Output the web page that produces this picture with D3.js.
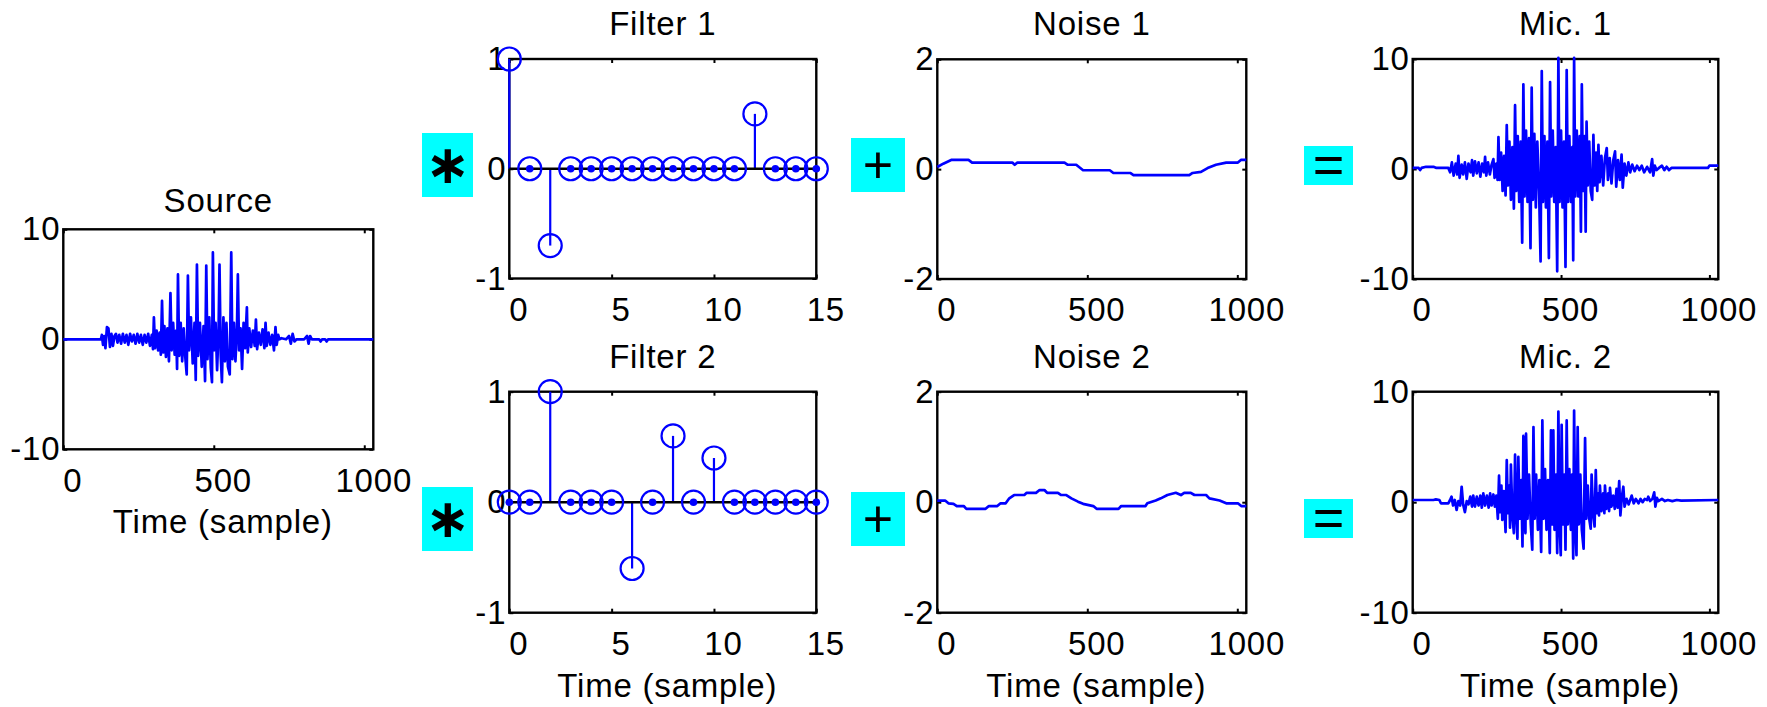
<!DOCTYPE html>
<html>
<head>
<meta charset="utf-8">
<script src="https://cdn.jsdelivr.net/npm/d3@7"></script>
<style>
  body { margin: 0; background: #fff; }
  svg text { font-family: "Liberation Sans", Arial, sans-serif; }
</style>
</head>
<body>
<div id="chart"></div>
<script>
// ---- data ----
let xMax = 1030;
let longTicks = [0, 500, 1000];
let filterTicks = [0, 5, 10, 15];
let bigTicksY = [-10, 0, 10];
let unitTicksY = [-1, 0, 1];
let noiseTicksY = [-2, 0, 2];

let filter1 = [1, 0, -0.7, 0, 0, 0, 0, 0, 0, 0, 0, 0, 0.5, 0, 0, 0];
let filter2 = [0, 0, 1, 0, 0, 0, -0.6, 0, 0.6, 0, 0.4, 0, 0, 0, 0, 0];

// [sample, value]
let source = [[0,0],[125,0],[128,0.4],[132,-0.5],[136,0.3],[140,-0.8],[145,1.1],[150,1.0],[155,-0.7],[160,0.5],[165,-0.6],[170,0.3],[175,0.5],[180,-0.3],[186,0.4],[192,-0.4],[198,0.5],[204,-0.3],[210,0.4],[216,-0.5],[222,0.5],[228,-0.2],[234,0.4],[240,-0.4],[246,0.5],[252,-0.3],[258,0.4],[264,-0.5],[270,0.4],[276,-0.3],[282,0.5],[288,-0.6],[294,0.4],
  [298,-0.9],[301,2.0],[305,-0.8],[310,0.8],[315,-1.0],[320,0.6],[324,-1.4],[328,3.5],[332,-1.2],[336,1.2],[341,-1.6],[346,1.0],[351,-2.0],[356,4.2],[360,-1.0],[365,1.5],[370,-1.4],[375,0.8],[378,-2.7],[381,5.9],[385,-1.5],[390,1.5],[395,-2.0],[400,1.0],[405,-1.5],[410,-3.2],[414,5.8],[418,-1.0],[424,2.0],[430,-2.2],[436,1.5],[440,-3.7],[444,6.8],[448,-1.5],[454,1.5],[460,-2.5],[466,1.2],[471,-3.8],[475,6.7],[479,-1.8],[485,2.0],[490,-2.6],[494,-3.9],[497,7.9],[501,-1.0],[506,1.5],[511,-2.8],[516,1.0],[519,6.8],[523,-1.5],[527,-3.9],[532,2.0],[537,-2.0],[542,1.5],[547,-2.5],[553,-3.2],[558,7.9],[562,-1.8],[567,1.5],[572,-2.0],[577,1.0],[580,5.9],[584,-1.0],[589,1.0],[594,-2.7],[599,1.5],[604,-0.8],[610,2.9],[613,-1.2],[618,1.0],[624,-0.7],[630,0.8],[636,-0.6],[640,1.8],[644,-0.9],[650,0.6],[656,-0.5],[662,0.9],[668,-0.8],[672,1.5],[676,-0.6],[682,0.6],[688,-0.5],[694,0.4],[700,-1.0],[705,1.1],[709,-0.5],[714,0.4],[718,0],[725,0.1],[740,0],[750,0.3],[756,-0.4],[762,0.5],[768,-0.2],[775,0],[800,0],[810,0.3],[815,-0.4],[820,0.3],[826,0],[850,0],[855,-0.2],[860,0],[870,0],[875,-0.2],[880,0],[1030,0]];

let noise1 = [[0,0.04],[20,0.1],[48,0.17],[104,0.17],[116,0.12],[250,0.12],[258,0.08],[267,0.12],[424,0.12],[435,0.08],[463,0.08],[486,-0.02],[575,-0.02],[587,-0.07],[643,-0.07],[654,-0.11],[840,-0.11],[851,-0.07],[879,-0.05],[901,0.02],[929,0.08],[963,0.12],[1002,0.12],[1013,0.17],[1030,0.17]];

let noise2 = [[0,0.03],[26,0.03],[37,-0.02],[54,-0.03],[65,-0.07],[88,-0.07],[97,-0.12],[161,-0.12],[172,-0.07],[200,-0.07],[211,-0.02],[228,-0.02],[240,0.07],[256,0.13],[290,0.13],[298,0.17],[329,0.17],[341,0.22],[357,0.22],[366,0.17],[402,0.17],[413,0.13],[430,0.13],[447,0.07],[469,0.01],[486,-0.03],[520,-0.07],[531,-0.12],[604,-0.12],[613,-0.07],[694,-0.07],[700,-0.02],[728,0.03],[745,0.07],[767,0.13],[795,0.17],[812,0.13],[823,0.17],[845,0.17],[857,0.13],[896,0.13],[907,0.07],[941,0.03],[963,-0.02],[1002,-0.02],[1013,-0.07],[1030,-0.07]];

let mic1 = [[0,0.1],[20,0.1],[25,-0.1],[30,0.1],[45,0.2],[70,0.2],[80,0.1],[120,0.1],
  [126,-0.3],[132,0.6],[138,-0.6],[145,0.5],[150,-0.5],[154,1.2],[158,-0.8],[165,0.4],[170,-0.5],[176,0.6],[182,-0.9],[188,0.5],[195,-0.3],[200,0.8],[204,-0.6],[210,0.7],[216,-0.4],[222,0.6],[228,-0.7],[234,0.5],[240,-0.3],[244,1.1],[248,-0.6],[254,0.6],[260,-0.5],[266,0.4],[272,0.9],[276,-0.8],[282,0.5],[286,-1.0],[289,2.9],[293,-1.0],[298,1.5],[303,-2.0],[308,1.2],[313,-2.4],[317,4.0],[321,-1.5],[326,2.5],[331,-2.8],[336,2.0],[341,-3.6],[345,5.8],[349,-2.0],[354,3.0],[359,-3.0],[364,2.5],[369,-6.7],[373,7.7],[377,-2.5],[382,3.5],[387,-3.0],[392,2.8],[397,-7.2],[401,7.4],[405,-2.8],[410,3.2],[415,-3.5],[420,2.5],[426,-2.0],[431,-8.4],[435,8.9],[439,-3.0],[444,3.0],[449,-3.5],[454,2.5],[459,-8.1],[463,7.9],[467,-2.5],[472,3.5],[477,-3.0],[482,2.0],[487,-9.3],[491,10.1],[495,-3.0],[500,3.5],[505,-3.5],[510,2.5],[515,-8.9],[519,9.0],[523,-3.0],[528,3.0],[533,-3.0],[538,2.0],[541,-8.3],[544,10.1],[548,-2.5],[553,3.5],[558,-2.5],[563,3.0],[567,-5.7],[570,7.7],[574,-2.0],[579,3.0],[583,-5.7],[586,4.3],[590,-1.5],[595,2.5],[600,-2.0],[605,-2.8],[609,3.1],[613,-1.5],[618,1.5],[622,-2.0],[626,2.2],[630,-1.2],[636,1.2],[642,-1.5],[648,1.0],[654,1.9],[658,-1.0],[664,1.0],[670,-1.3],[676,0.8],[682,1.6],[686,-1.6],[692,0.8],[698,-1.0],[704,1.3],[708,-1.7],[714,0.5],[720,-0.6],[727,0.6],[733,-0.3],[740,0.4],[748,-0.2],[756,0.3],[764,-0.1],[772,0.3],[780,-0.3],[790,0.2],[800,-0.3],[807,0.9],[811,-0.6],[816,0.3],[822,-0.1],[830,0.1],[840,0.3],[848,-0.1],[856,0.2],[864,-0.1],[872,0.1],[880,0.1],[995,0.1],[1000,0.3],[1030,0.3]];

let mic2 = [[0,0.2],[70,0.2],[78,0.25],[90,0.2],[95,-0.1],[120,-0.1],[126,0.2],[131,0.5],[136,-0.3],[142,0.2],[148,-0.7],[154,0.1],[160,-0.3],[165,1.4],[170,-0.2],[176,-0.9],[182,0.1],[188,-0.2],[194,0.5],[200,-0.4],[204,0.6],[210,-0.4],[216,0.5],[222,-0.3],[228,0.6],[233,-0.5],[238,0.8],[244,-0.3],[250,0.6],[256,-0.5],[261,0.8],[266,-0.3],[272,0.7],[277,-0.4],[282,0.6],[287,-1.5],[291,2.4],[295,-0.9],[299,1.5],[302,-1.6],[307,1.0],[313,-2.7],[317,3.8],[321,-1.0],[325,1.5],[328,-2.3],[331,3.4],[336,-1.2],[341,-2.8],[345,4.3],[349,-1.0],[353,-3.3],[356,4.1],[361,-1.5],[366,2.0],[370,-4.0],[373,6.0],[377,-1.5],[380,-2.8],[382,6.2],[387,-1.5],[392,2.5],[398,-2.0],[403,-4.3],[407,6.8],[411,-1.5],[416,2.5],[422,-2.5],[427,2.0],[433,-4.5],[437,7.4],[441,-1.5],[446,3.0],[451,-2.5],[456,2.0],[462,-4.6],[466,6.5],[470,-2.0],[474,6.5],[478,-2.5],[483,2.5],[487,-4.6],[491,8.2],[495,-2.0],[499,-4.8],[502,7.0],[506,-2.0],[511,2.5],[515,-4.3],[519,7.4],[523,-2.0],[528,3.0],[533,-2.5],[537,2.5],[541,-5.1],[544,8.3],[548,-2.0],[552,-4.8],[556,6.8],[560,-2.0],[565,2.5],[570,-2.5],[576,-4.2],[581,5.8],[585,-1.5],[590,1.5],[595,-1.5],[600,-2.4],[603,2.5],[608,-1.0],[613,-2.2],[617,2.9],[621,-1.0],[626,0.8],[628,-1.2],[631,1.5],[636,-0.8],[642,0.8],[646,-1.0],[648,1.5],[653,-0.6],[659,0.8],[662,-0.8],[665,1.3],[670,-0.4],[676,0.6],[681,-0.6],[687,1.2],[691,-0.5],[696,1.9],[700,-1.2],[705,0.5],[710,1.4],[714,-0.4],[721,0.3],[728,-0.2],[738,0.6],[745,-0.1],[752,0.3],[761,-0.1],[768,0.3],[775,0.0],[782,0.3],[790,0.2],[794,0.5],[800,0.1],[808,0.3],[814,0.9],[818,-0.4],[823,0.4],[828,0.1],[840,0.3],[850,0.1],[860,0.2],[875,0.1],[890,0.2],[905,0.15],[1030,0.2]];

let xLabel = "Time (sample)";

// ---- drawing ----
let width = 1767, height = 707;
let blue = "#0000ff", cyan = "#00ffff";
let fontSize = 33;

// plain integers with a hyphen minus, like the original figure
let plainFormat = function(d) { return String(d); };

let svg = d3.select("#chart")
  .append("svg")
    .attr("width", width)
    .attr("height", height);

function drawPanel(p) {
  let g = svg.append("g")
    .attr("transform", "translate(" + p.left + "," + p.top + ")");

  let x = d3.scaleLinear().domain(p.xDomain).range([0, p.w]);
  let y = d3.scaleLinear().domain(p.yDomain).range([p.h, 0]);

  // box
  g.append("rect")
    .attr("width", p.w)
    .attr("height", p.h)
    .attr("fill", "none")
    .attr("stroke", "#000")
    .attr("stroke-width", 2.4);

  // inward ticks on all four sides, labels only bottom/left
  let styleAxis = function(a) {
    a.select(".domain").remove();
    a.selectAll(".tick line").attr("stroke", "#000").attr("stroke-width", 2);
    a.attr("font-size", fontSize)
      .attr("font-family", '"Liberation Sans", Arial, sans-serif')
      .attr("letter-spacing", "0.8px");
    a.selectAll("text").attr("fill", "#000");
  };

  g.append("g")
    .attr("transform", "translate(0," + p.h + ")")
    .call(d3.axisBottom(x).tickValues(p.xTicks).tickSize(-4).tickPadding(19).tickFormat(plainFormat))
    .call(styleAxis)
    .selectAll("text").attr("dx", 9);

  g.append("g")
    .call(d3.axisLeft(y).tickValues(p.yTicks).tickSize(-4).tickPadding(3).tickFormat(plainFormat))
    .call(styleAxis);

  g.append("g")
    .call(d3.axisTop(x).tickValues(p.xTicks).tickSize(-4).tickFormat(""))
    .call(styleAxis);

  g.append("g")
    .attr("transform", "translate(" + p.w + ",0)")
    .call(d3.axisRight(y).tickValues(p.yTicks).tickSize(-4).tickFormat(""))
    .call(styleAxis);

  // title
  g.append("text")
    .attr("x", p.w / 2)
    .attr("y", -p.titleGap)
    .attr("text-anchor", "middle")
    .attr("font-size", fontSize)
    .attr("letter-spacing", "0.8px")
    .attr("fill", "#000")
    .text(p.title);

  if (p.xlabel) {
    g.append("text")
      .attr("x", p.w / 2 + 4.5)
      .attr("y", p.h + 84)
      .attr("text-anchor", "middle")
      .attr("font-size", fontSize)
      .attr("letter-spacing", "0.8px")
      .attr("fill", "#000")
      .text(xLabel);
  }

  if (p.signal) {
    let line = d3.line()
      .x(function(d) { return x(d[0]); })
      .y(function(d) { return y(d[1]); });
    g.append("path")
      .datum(p.signal)
      .attr("d", line)
      .attr("fill", "none")
      .attr("stroke", blue)
      .attr("stroke-width", 2.7)
      .attr("stroke-linejoin", "round");
  }

  if (p.stems) {
    let taps = p.stems.map(function(v, i) { return {i: i, v: v}; });
    g.selectAll(".stem")
      .data(taps.filter(function(d) { return d.v !== 0; }))
      .enter()
      .append("line")
        .attr("x1", function(d) { return x(d.i); })
        .attr("x2", function(d) { return x(d.i); })
        .attr("y1", y(0))
        .attr("y2", function(d) { return y(d.v); })
        .attr("stroke", blue)
        .attr("stroke-width", 2.2);
    g.append("line")
      .attr("x1", x(0)).attr("x2", x(p.stems.length - 1))
      .attr("y1", y(0)).attr("y2", y(0))
      .attr("stroke", "#000")
      .attr("stroke-width", 2.4);
    g.selectAll(".mark")
      .data(taps)
      .enter()
      .append("circle")
        .attr("cx", function(d) { return x(d.i); })
        .attr("cy", function(d) { return y(d.v); })
        .attr("r", 11.5)
        .attr("fill", "none")
        .attr("stroke", blue)
        .attr("stroke-width", 2.2);
    g.selectAll(".dot")
      .data(taps.filter(function(d) { return d.v === 0; }))
      .enter()
      .append("circle")
        .attr("cx", function(d) { return x(d.i); })
        .attr("cy", y(0))
        .attr("r", 3.8)
        .attr("fill", blue);
  }
}

let panels = [
  {title: "Source", left: 63.3, top: 229.3, w: 310, h: 220, titleGap: 17.5,
   xDomain: [0, xMax], yDomain: [-10, 10], xTicks: longTicks, yTicks: bigTicksY, signal: source, xlabel: true},
  {title: "Filter 1", left: 509.3, top: 59, w: 307, h: 219.5, titleGap: 24,
   xDomain: [0, 15], yDomain: [-1, 1], xTicks: filterTicks, yTicks: unitTicksY, stems: filter1},
  {title: "Filter 2", left: 509.3, top: 391.7, w: 307, h: 221, titleGap: 24,
   xDomain: [0, 15], yDomain: [-1, 1], xTicks: filterTicks, yTicks: unitTicksY, stems: filter2, xlabel: true},
  {title: "Noise 1", left: 937.3, top: 59.3, w: 309, h: 219.7, titleGap: 24,
   xDomain: [0, xMax], yDomain: [-2, 2], xTicks: longTicks, yTicks: noiseTicksY, signal: noise1},
  {title: "Noise 2", left: 937.3, top: 391.7, w: 309, h: 221, titleGap: 24,
   xDomain: [0, xMax], yDomain: [-2, 2], xTicks: longTicks, yTicks: noiseTicksY, signal: noise2, xlabel: true},
  {title: "Mic. 1", left: 1412.7, top: 59, w: 305.6, h: 220, titleGap: 24,
   xDomain: [0, xMax], yDomain: [-10, 10], xTicks: longTicks, yTicks: bigTicksY, signal: mic1},
  {title: "Mic. 2", left: 1412.7, top: 391.7, w: 305.6, h: 221, titleGap: 24,
   xDomain: [0, xMax], yDomain: [-10, 10], xTicks: longTicks, yTicks: bigTicksY, signal: mic2, xlabel: true}
];

panels.forEach(drawPanel);

// operator boxes between the columns
let ops = [
  {sym: "\u2217", x: 422, y: 133, w: 51, h: 64, font: '"DejaVu Sans", sans-serif', size: 54, dy: 50, weight: "bold"},
  {sym: "\u2217", x: 422, y: 487, w: 51, h: 64, font: '"DejaVu Sans", sans-serif', size: 54, dy: 50, weight: "bold"},
  {sym: "+", x: 851, y: 138, w: 54, h: 54, font: '"Liberation Sans", Arial, sans-serif', size: 52, dy: 45, weight: "normal"},
  {sym: "+", x: 851, y: 492, w: 54, h: 54, font: '"Liberation Sans", Arial, sans-serif', size: 52, dy: 45, weight: "normal"},
  {sym: "=", x: 1304, y: 146, w: 49, h: 39, font: '"Liberation Sans", Arial, sans-serif', size: 54, dy: 37, weight: "normal"},
  {sym: "=", x: 1304, y: 499, w: 49, h: 39, font: '"Liberation Sans", Arial, sans-serif', size: 54, dy: 37, weight: "normal"}
];

let opG = svg.selectAll(".op")
  .data(ops)
  .enter()
  .append("g")
    .attr("transform", function(d) { return "translate(" + d.x + "," + d.y + ")"; });

opG.append("rect")
  .attr("width", function(d) { return d.w; })
  .attr("height", function(d) { return d.h; })
  .attr("fill", cyan);

opG.append("text")
  .attr("x", function(d) { return d.w / 2; })
  .attr("y", function(d) { return d.dy; })
  .attr("text-anchor", "middle")
  .style("font-family", function(d) { return d.font; })
  .attr("font-size", function(d) { return d.size; })
  .attr("font-weight", function(d) { return d.weight; })
  .attr("fill", "#000")
  .text(function(d) { return d.sym; });
</script>
</body>
</html>
